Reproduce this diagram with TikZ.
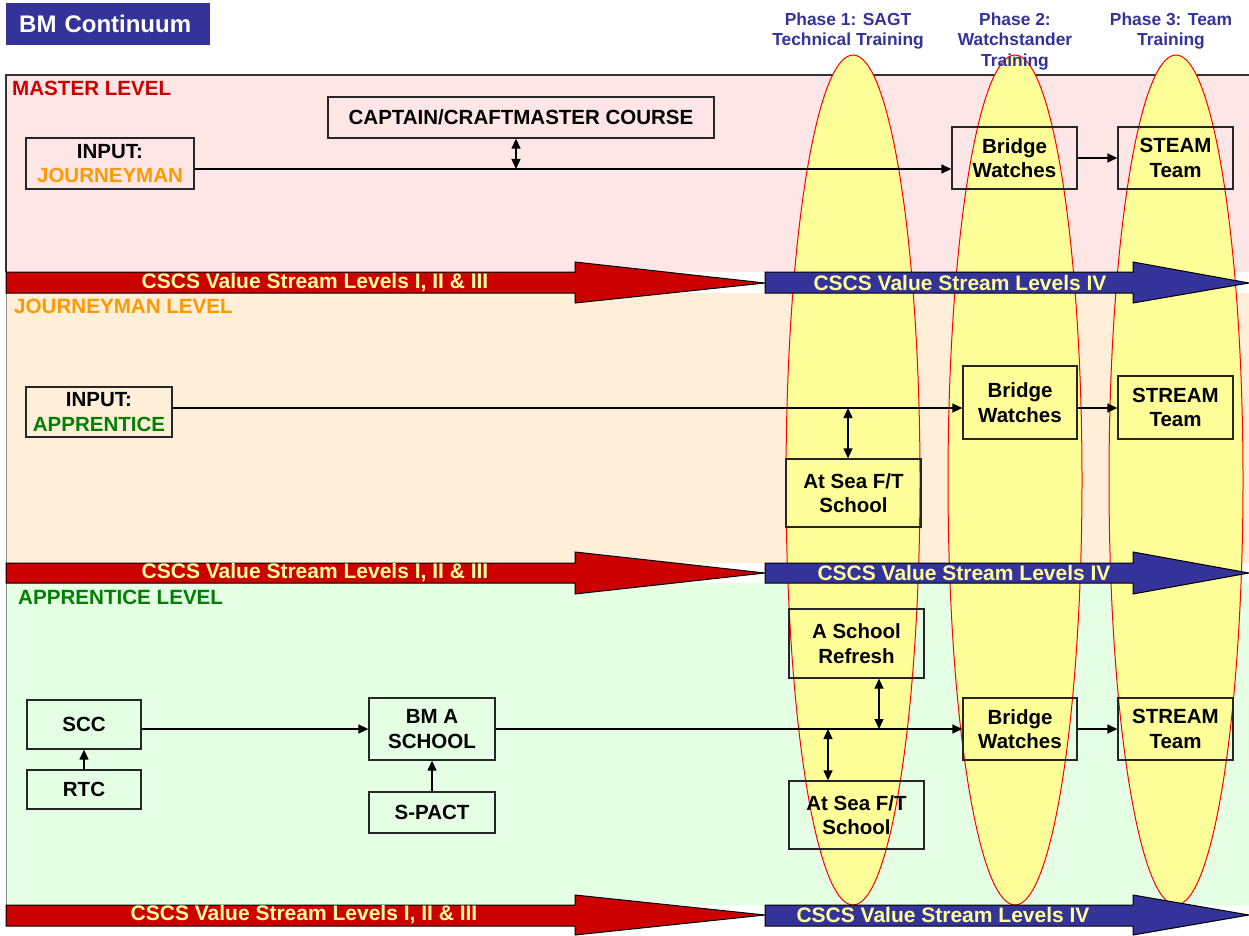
\documentclass[tikz,border=0pt]{standalone}
\usepackage{fontspec}
\setmainfont{Liberation Sans}
\usetikzlibrary{arrows.meta}
\definecolor{tblue}{HTML}{333399}
\definecolor{tred}{HTML}{CC0000}
\definecolor{tyel}{HTML}{FFFF99}
\definecolor{torange}{HTML}{FF9900}
\definecolor{tgreen}{HTML}{008000}
\definecolor{bandpink}{HTML}{FFE6E6}
\definecolor{bandorange}{HTML}{FFEED8}
\definecolor{bandgreen}{HTML}{E4FFE4}
\begin{document}
\begin{tikzpicture}[x=1pt,y=-1pt,
 box/.style={draw=black!85,line width=1.3pt,align=center,inner sep=0pt,font=\fontsize{20.5}{24.5}\selectfont\bfseries},
 conn/.style={line width=1.3pt,-{Triangle[length=10pt,width=9pt]}},
 dbl/.style={line width=1.3pt,{Triangle[length=10pt,width=9pt]}-{Triangle[length=10pt,width=9pt]}},
 lvl/.style={anchor=west,inner sep=0pt,font=\fontsize{20.6}{22}\selectfont\bfseries},
 phase/.style={align=center,text=tblue,font=\fontsize{17.4}{20.6}\selectfont\bfseries,inner sep=0pt},
 ell/.style={fill=tyel,draw=red,line width=1pt},
 vs/.style={text=tyel,inner sep=0pt,font=\fontsize{21}{24}\selectfont\bfseries},
 redarr/.style={fill=tred,draw=black,line width=1pt},
 bluearr/.style={fill=tblue,draw=black,line width=1pt}]

\useasboundingbox (0,0) rectangle (1249,936);
\fill[white] (0,0) rectangle (1249,936);

% bands
\fill[bandpink] (6,75) rectangle (1249,272);
\fill[bandorange] (6,293) rectangle (1249,563);
\fill[bandgreen] (6,583) rectangle (1249,905);
\draw[black!80,line width=1.2pt] (6,272) -- (6,75) -- (1249,75);
\draw[black!45,line width=1pt] (6,293) -- (6,563);
\draw[black!45,line width=1pt] (6,583) -- (6,905);

% phase ellipses
\draw[ell] (853,480) ellipse [x radius=67pt, y radius=425pt];
\draw[ell] (1015,480) ellipse [x radius=67pt, y radius=425pt];
\draw[ell] (1176,480) ellipse [x radius=67pt, y radius=425pt];

% value stream arrows
\draw[redarr] (6,272) -- (575,272) -- (575,262) -- (765,283) -- (575,303) -- (575,293) -- (6,293) -- cycle;
\draw[bluearr] (765,272) -- (1133,272) -- (1133,262) -- (1249,283) -- (1133,303) -- (1133,293) -- (765,293) -- cycle;
\draw[redarr] (6,563) -- (575,563) -- (575,552) -- (765,573) -- (575,594) -- (575,583) -- (6,583) -- cycle;
\draw[bluearr] (765,563) -- (1133,563) -- (1133,552) -- (1249,573) -- (1133,594) -- (1133,583) -- (765,583) -- cycle;
\draw[redarr] (6,905) -- (575,905) -- (575,895) -- (765,915) -- (575,935) -- (575,926) -- (6,926) -- cycle;
\draw[bluearr] (765,905) -- (1133,905) -- (1133,895) -- (1249,915) -- (1133,935) -- (1133,926) -- (765,926) -- cycle;

\node[vs] (vs1r) at (315,283) {CSCS Value Stream Levels I, II \& III};
\node[vs] (vs1b) at (960,283) {CSCS Value Stream Levels IV};
\node[vs] (vs2r) at (315,573) {CSCS Value Stream Levels I, II \& III};
\node[vs] (vs2b) at (964,573) {CSCS Value Stream Levels IV};
\node[vs] (vs3r) at (304,915) {CSCS Value Stream Levels I, II \& III};
\node[vs] (vs3b) at (943,915) {CSCS Value Stream Levels IV};

% title and phase labels
\node[fill=tblue,anchor=north west,inner xsep=13pt,inner ysep=0pt,minimum height=42pt,text width=178pt,align=left,text=white,font=\fontsize{24}{26}\selectfont\bfseries] (title) at (6,3) {BM Continuum};
\node[phase] (ph1) at (848,31) {Phase 1: SAGT\\Technical Training};
\node[phase] (ph2) at (1015,41.5) {Phase 2:\\Watchstander\\Training};
\node[phase] (ph3) at (1171,31) {Phase 3: Team\\Training};

% level labels
\node[lvl,text=tred] (lm) at (12,88) {MASTER LEVEL};
\node[lvl,text=torange] (lj) at (14,306) {JOURNEYMAN LEVEL};
\node[lvl,text=tgreen] (la) at (18,597.5) {APPRENTICE LEVEL};

% master level
\node[box,minimum width=386pt,minimum height=41pt] (cap) at (521,117.5) {CAPTAIN/CRAFTMASTER COURSE};
\node[box,minimum width=168pt,minimum height=51pt] (injm) at (110,163.5) {INPUT:\\\textcolor{torange}{JOURNEYMAN}};
\node[box,minimum width=125pt,minimum height=62pt] (bw1) at (1014.5,158) {Bridge\\Watches};
\node[box,minimum width=115pt,minimum height=62pt] (st1) at (1175.5,158) {STEAM\\Team};
\coordinate (l1) at (0,169);
\coordinate (d1) at (516,169);
\draw[conn] (injm.east |- l1) -- (bw1.west |- l1);
\draw[dbl] (cap.south -| d1) -- (d1);
\draw[conn] (bw1.east) -- (st1.west);

% journeyman level
\node[box,minimum width=146pt,minimum height=50pt] (inap) at (99,412) {INPUT:\\\textcolor{tgreen}{APPRENTICE}};
\node[box,minimum width=114pt,minimum height=73pt] (bw2) at (1020,402.5) {Bridge\\Watches};
\node[box,minimum width=115pt,minimum height=63pt] (st2) at (1175.5,407.5) {STREAM\\Team};
\node[box,minimum width=135pt,minimum height=68pt] (sea1) at (853.5,493) {At Sea F/T\\School};
\coordinate (l2) at (0,408);
\coordinate (d2) at (848,408);
\draw[conn] (inap.east |- l2) -- (bw2.west |- l2);
\draw[conn] (bw2.east |- l2) -- (st2.west |- l2);
\draw[dbl] (d2) -- (sea1.north -| d2);

% apprentice level
\node[box,minimum width=135pt,minimum height=69pt] (asr) at (856.5,643.5) {A School\\Refresh};
\node[box,minimum width=135pt,minimum height=68pt] (sea2) at (856.5,815) {At Sea F/T\\School};
\node[box,minimum width=114pt,minimum height=62pt] (bw3) at (1020,729) {Bridge\\Watches};
\node[box,minimum width=115pt,minimum height=62pt] (st3) at (1175.5,729) {STREAM\\Team};
\node[box,minimum width=114pt,minimum height=49pt] (scc) at (84,724.5) {SCC};
\node[box,minimum width=114pt,minimum height=39pt] (rtc) at (84,789.5) {RTC};
\node[box,minimum width=126pt,minimum height=62pt] (bma) at (432,729) {BM A\\SCHOOL};
\node[box,minimum width=126pt,minimum height=41pt] (spact) at (432,812.5) {S-PACT};
\coordinate (d3) at (879,729);
\coordinate (d4) at (828,729);
\draw[conn] (scc.east |- bma.west) -- (bma.west);
\draw[conn] (rtc.north) -- (scc.south);
\draw[conn] (spact.north) -- (bma.south);
\draw[conn] (bma.east) -- (bw3.west);
\draw[conn] (bw3.east) -- (st3.west);
\draw[dbl] (asr.south -| d3) -- (d3);
\draw[dbl] (d4) -- (sea2.north -| d4);
\end{tikzpicture}
\end{document}
